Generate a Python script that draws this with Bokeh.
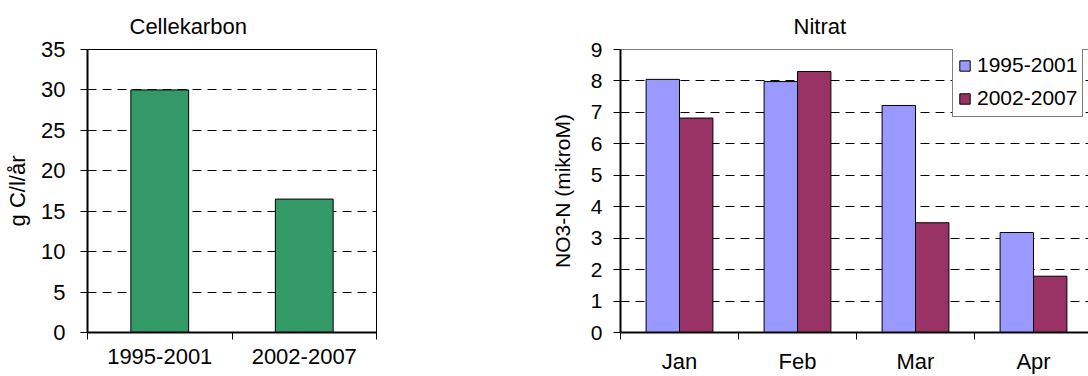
from bokeh.plotting import figure
from bokeh.layouts import row
from bokeh.models import Range1d, FixedTicker, Legend, LegendItem, Span
from bokeh.embed import file_html
from bokeh.resources import INLINE

FONT = "Liberation Sans"

# ---- data ----
carbon_periods = ["1995-2001", "2002-2007"]
carbon_values = [30.0, 16.5]
carbon_yticks = [0, 5, 10, 15, 20, 25, 30, 35]

months = ["Jan", "Feb", "Mar", "Apr"]
series_names = ["1995-2001", "2002-2007"]
nitrate_1995_2001 = [8.05, 7.98, 7.22, 3.18]
nitrate_2002_2007 = [6.82, 8.30, 3.49, 1.79]
nitrate_yticks = [0, 1, 2, 3, 4, 5, 6, 7, 8, 9]

GREEN = "#339966"
BLUE = "#9999FF"
PLUM = "#993366"


def style(p, yticks, ylabel, tick_size, label_size, ylabel_standoff, ytick_standoff):
    p.background_fill_color = "white"
    p.border_fill_color = "white"
    p.xgrid.grid_line_color = None
    p.ygrid.ticker = FixedTicker(ticks=yticks)
    p.ygrid.grid_line_color = "black"
    p.ygrid.grid_line_dash = "9 6"
    p.ygrid.grid_line_width = 1

    ya = p.yaxis[0]
    ya.ticker = FixedTicker(ticks=yticks)
    ya.axis_line_width = 2
    ya.axis_line_color = "black"
    ya.major_tick_out = 7
    ya.major_tick_in = 0
    ya.major_tick_line_color = "black"
    ya.minor_tick_line_color = None
    ya.major_label_text_font = FONT
    ya.major_label_text_font_size = tick_size
    ya.major_label_text_color = "black"
    ya.major_label_standoff = ytick_standoff
    ya.axis_label = ylabel
    ya.axis_label_text_font = FONT
    ya.axis_label_text_font_size = label_size
    ya.axis_label_text_font_style = "normal"
    ya.axis_label_text_color = "black"
    ya.axis_label_standoff = ylabel_standoff

    xa = p.xaxis[0]
    xa.axis_line_width = 2
    xa.axis_line_color = "black"
    xa.major_tick_line_color = None
    xa.major_tick_out = 7
    xa.major_tick_in = 0
    xa.minor_tick_line_color = "black"
    xa.minor_tick_out = 7
    xa.minor_tick_in = 0
    xa.major_label_text_font = FONT
    xa.major_label_text_font_size = "22px"
    xa.major_label_text_color = "black"
    xa.major_label_standoff = 9

    p.title.text_font = FONT
    p.title.text_font_style = "normal"
    p.title.text_color = "black"
    p.title.align = "left"


SPLIT = 545  # width of the left chart

# ---- left chart: Cellekarbon ----
pos1 = list(range(1, len(carbon_periods) + 1))
p1 = figure(width=SPLIT, height=376, output_backend="svg", toolbar_location=None,
            x_range=Range1d(0.5, len(carbon_periods) + 0.5), y_range=Range1d(0, 35),
            min_border_left=87, min_border_right=SPLIT - 376, min_border_top=49, min_border_bottom=43,
            title="Cellekarbon")
p1.vbar(x=pos1, top=carbon_values, width=0.4, bottom=0,
        fill_color=GREEN, line_color="black", line_width=1)
style(p1, carbon_yticks, "g C/l/år", "22px", "22px", 8, 15)
p1.xaxis[0].ticker = FixedTicker(ticks=pos1, minor_ticks=[i + 0.5 for i in range(len(carbon_periods) + 1)])
p1.xaxis[0].major_label_overrides = {k: v for k, v in zip(pos1, carbon_periods)}
p1.outline_line_color = "black"
p1.outline_line_width = 1
p1.title.offset = 42
p1.title.text_font_size = "22px"
p1.title.standoff = 22

# ---- right chart: Nitrat ----
pos2 = list(range(1, len(months) + 1))
left2 = 620 - SPLIT
frame_w2 = (1088 - SPLIT) - left2
cat_px = 118.0
p2 = figure(width=1088 - SPLIT, height=376, output_backend="svg", toolbar_location=None,
            x_range=Range1d(0.5, 0.5 + frame_w2 / cat_px), y_range=Range1d(0, 9),
            min_border_left=left2, min_border_right=0, min_border_top=49, min_border_bottom=43,
            title="Nitrat")
bw = 0.283
r1 = p2.vbar(x=[x - bw / 2 for x in pos2], top=nitrate_1995_2001, width=bw, bottom=0,
             fill_color=BLUE, line_color="black", line_width=1)
r2 = p2.vbar(x=[x + bw / 2 for x in pos2], top=nitrate_2002_2007, width=bw, bottom=0,
             fill_color=PLUM, line_color="black", line_width=1)
style(p2, nitrate_yticks, "NO3-N (mikroM)", "21px", "21px", 14, 11)
p2.xaxis[0].ticker = FixedTicker(ticks=pos2, minor_ticks=[i + 0.5 for i in range(len(months) + 1)])
p2.xaxis[0].major_label_overrides = {k: v for k, v in zip(pos2, months)}
p2.outline_line_color = None
p2.add_layout(Span(location=9, dimension="width", line_color="black", line_width=1))
p2.title.offset = 173
p2.title.text_font_size = "22px"
p2.title.standoff = 22

legend = Legend(items=[LegendItem(label=series_names[0], renderers=[r1]),
                       LegendItem(label=series_names[1], renderers=[r2])],
                location=(332, 215))
legend.border_line_color = "black"
legend.border_line_width = 1
legend.background_fill_color = "white"
legend.background_fill_alpha = 1
legend.label_text_font = FONT
legend.label_text_font_size = "21px"
legend.label_text_color = "black"
legend.glyph_width = 13
legend.glyph_height = 13
legend.label_height = 26
legend.spacing = 7
legend.padding = 5
legend.margin = 0
legend.label_standoff = 6
p2.add_layout(legend)

layout = row(p1, p2)
open("out.html", "w").write(file_html(layout, INLINE))
